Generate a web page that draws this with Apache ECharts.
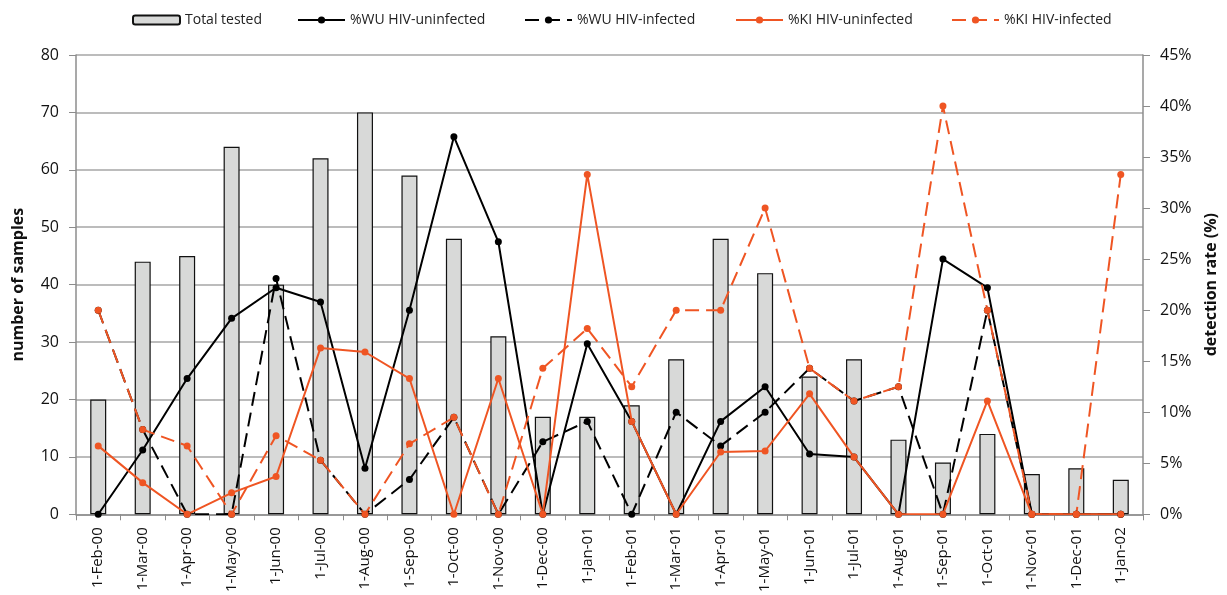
<!DOCTYPE html>
<html>
<head>
<meta charset="utf-8">
<script src="https://cdn.jsdelivr.net/npm/echarts@6/dist/echarts.min.js"></script>
<style>
html,body{margin:0;padding:0;background:#fff;overflow:hidden;}
#chart{width:1227px;height:595px;}
</style>
</head>
<body>
<div id="chart"></div>
<script>
const categories = ['1-Feb-00','1-Mar-00','1-Apr-00','1-May-00','1-Jun-00','1-Jul-00','1-Aug-00','1-Sep-00','1-Oct-00','1-Nov-00','1-Dec-00','1-Jan-01','1-Feb-01','1-Mar-01','1-Apr-01','1-May-01','1-Jun-01','1-Jul-01','1-Aug-01','1-Sep-01','1-Oct-01','1-Nov-01','1-Dec-01','1-Jan-02'];
const totalTested = [20,44,45,64,40,62,70,59,48,31,17,17,19,27,48,42,24,27,13,9,14,7,8,6];
const wuUninfected = [0,6.3,13.3,19.2,22.2,20.8,4.5,20.0,37.0,26.7,0,16.7,9.1,0,9.1,12.5,5.9,5.6,0,25.0,22.2,0,0,0];
const wuInfected = [20.0,8.3,0,0,23.1,5.3,0,3.4,9.5,0,7.1,9.1,0,10.0,6.7,10.0,14.3,11.1,12.5,0,20.0,0,0,0];
const kiUninfected = [6.7,3.1,0,2.1,3.7,16.3,15.9,13.3,0,13.3,0,33.3,9.1,0,6.1,6.2,11.8,5.6,0,0,11.1,0,0,0];
const kiInfected = [20.0,8.3,6.7,0,7.7,5.3,0,6.9,9.5,0,14.3,18.2,12.5,20.0,20.0,30.0,14.3,11.1,12.5,40.0,20.0,0,0,33.3];
const seriesNames = ['Total tested','%WU HIV-uninfected','%WU HIV-infected','%KI HIV-uninfected','%KI HIV-infected'];
const leftTicks = {min:0,max:80,interval:10};
const rightTicks = {min:0,max:45,interval:5};

const FONT = 'Open Sans';
const ORANGE = '#ef5523';
const chart = echarts.init(document.getElementById('chart'), null, {width:1227, height:595});

function lineSeries(name, data, color, dashed){
  return {
    name, type:'line', yAxisIndex:1, data,
    symbol:'circle', symbolSize:7,
    itemStyle:{color},
    lineStyle:{color, width:2, type: dashed ? [14,7] : 'solid'},
    animation:false, z:3
  };
}

const legendLefts = [132, 297, 524, 735, 951];
const legends = seriesNames.map((n, i) => ({
  top:13, left:legendLefts[i], itemWidth:47, itemHeight:9, padding:0,
  textStyle:{fontFamily:FONT, fontSize:14, color:'#222'},
  data:[n]
}));

chart.setOption({
  animation:false,
  textStyle:{fontFamily:FONT},
  legend:legends,
  grid:{left:76, width:1073, top:55, height:461},
  xAxis:{
    type:'category', data:categories, boundaryGap:true,
    axisLine:{lineStyle:{color:'#8c8c8c', width:1.5}},
    axisTick:{show:true, length:6, lineStyle:{color:'#8c8c8c'}},
    axisLabel:{rotate:90, fontSize:15, color:'#111', margin:13, fontFamily:FONT}
  },
  yAxis:[
    {
      type:'value', min:leftTicks.min, max:leftTicks.max, interval:leftTicks.interval,
      name:'number of samples', nameLocation:'middle', nameGap:50, nameRotate:90,
      nameTextStyle:{fontSize:16, fontWeight:'bold', color:'#111', fontFamily:FONT},
      axisLine:{show:true, lineStyle:{color:'#8c8c8c', width:1.5}},
      axisTick:{show:true, length:7, lineStyle:{color:'#8c8c8c'}},
      axisLabel:{fontSize:16, color:'#111', margin:17, fontFamily:FONT},
      splitLine:{show:true, lineStyle:{color:'#a6a6a6', width:1.5}}
    },
    {
      type:'value', position:'right', min:rightTicks.min, max:rightTicks.max, interval:rightTicks.interval,
      name:'detection rate (%)', nameLocation:'middle', nameGap:60, nameRotate:90,
      nameTextStyle:{fontSize:16, fontWeight:'bold', color:'#111', fontFamily:FONT},
      axisLine:{show:true, lineStyle:{color:'#8c8c8c', width:1.5}},
      axisTick:{show:true, length:7, lineStyle:{color:'#8c8c8c'}},
      axisLabel:{fontSize:16, color:'#111', margin:17, fontFamily:FONT, formatter:'{value}%'},
      splitLine:{show:false}
    }
  ],
  series:[
    {
      name:seriesNames[0], type:'bar', yAxisIndex:0, data:totalTested, barWidth:16,
      itemStyle:{color:'#d8d9d8', borderColor:'#111', borderWidth:1.2},
      z:2
    },
    lineSeries(seriesNames[1], wuUninfected, '#000', false),
    lineSeries(seriesNames[2], wuInfected, '#000', true),
    lineSeries(seriesNames[3], kiUninfected, ORANGE, false),
    lineSeries(seriesNames[4], kiInfected, ORANGE, true)
  ]
});
</script>
</body>
</html>
